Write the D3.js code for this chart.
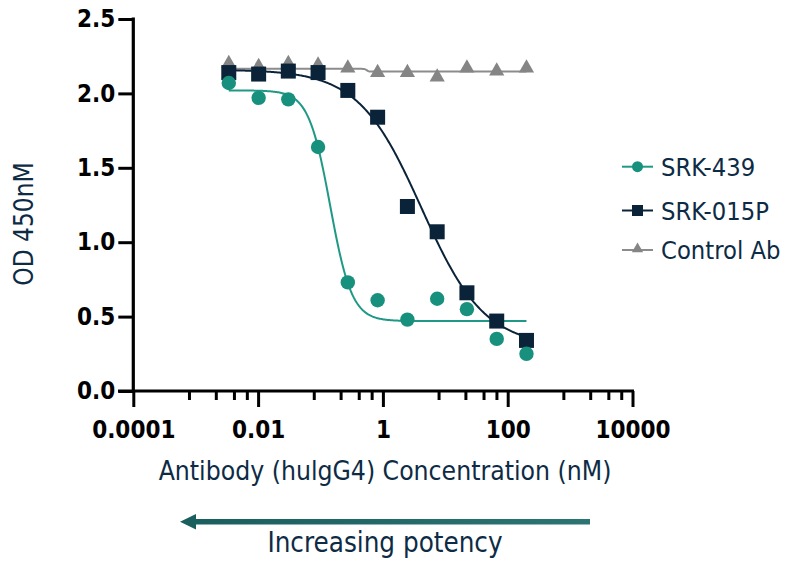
<!DOCTYPE html>
<html>
<head>
<meta charset="utf-8">
<script src="https://cdn.jsdelivr.net/npm/d3@7"></script>
<style>
  body { margin: 0; background: #fff; }
  svg { display: block; }
  text { font-family: "DejaVu Sans Condensed", "DejaVu Sans", sans-serif; font-stretch: condensed; }
</style>
</head>
<body>
<svg id="chart" width="787" height="562"></svg>
<script>

// concentrations (nM), 3-fold dilution
let concentrations = [0.00339, 0.0102, 0.0305, 0.0914, 0.274, 0.823, 2.47, 7.41, 22.2, 66.7, 200];

let srk439 = [2.07, 1.97, 1.96, 1.64, 0.73, 0.61, 0.48, 0.62, 0.55, 0.35, 0.25];
let srk015p = [2.14, 2.13, 2.15, 2.14, 2.02, 1.84, 1.24, 1.07, 0.66, 0.47, 0.34];
let controlAb = [2.20, 2.18, 2.20, 2.19, 2.17, 2.14, 2.14, 2.11, 2.17, 2.15, 2.17];

// 4PL fit params: [top, bottom, ec50, hill]
let fit439 = [2.02, 0.47, 0.143, 2.5];
let fit015p = [2.16, 0.30, 4.15, 0.86];
let fitControl = [2.165, 2.147, 0.55, 30];

let seriesNames = ["SRK-439", "SRK-015P", "Control Ab"];
let seriesColors = ["#17917d", "#0b2339", "#858585"];
let curveColors = ["#1f9985", "#0b2339", "#8c8c8c"];

let yTicks = [0, 0.5, 1.0, 1.5, 2.0, 2.5];
let xMajorTicks = [0.0001, 0.01, 1, 100, 10000];
let xMinorSteps = [7.8, 21, 41, 66];
let xTickLabels = ["0.0001", "0.01", "1", "100", "10000"];

let xTitle = "Antibody (hulgG4) Concentration (nM)";
let yTitle = "OD 450nM";
let arrowLabel = "Increasing potency";


var svg = d3.select("#chart");

var x = d3.scaleLog().domain([0.0001, 10000]).range([133.3, 632.5]);
var y = d3.scaleLinear().domain([0, 2.5]).range([391, 19]);

//minor ticks sit at odd spots between each 2-decade major
let xMinorTicks = [];
xMajorTicks.slice(0, -1).forEach(function(m) {
  xMinorSteps.forEach(function(s) { xMinorTicks.push(m * s); });
});

// minor x ticks
svg.append("g")
    .attr("transform", "translate(0,391)")
    .call(d3.axisBottom(x).tickValues(xMinorTicks).tickSize(9).tickFormat(""))
    .call(function(g) {
      g.select(".domain").remove();
      g.selectAll("line").attr("stroke", "#000").attr("stroke-width", 3);
    });

// major x ticks + labels
svg.append("g")
    .attr("transform", "translate(0,391)")
    .call(d3.axisBottom(x).tickValues(xMajorTicks).tickSize(16).tickPadding(14)
      .tickFormat(function(d, i) { return xTickLabels[i]; }))
    .call(function(g) {
      g.select(".domain").remove();
      g.selectAll("line").attr("stroke", "#000").attr("stroke-width", 3);
      g.selectAll("text").attr("fill", "#000").attr("font-size", 24).attr("font-weight", "bold")
        .style("font-family", '"DejaVu Sans Condensed", "DejaVu Sans", sans-serif');
    });

svg.append("line")
    .attr("x1", 118).attr("x2", 634)
    .attr("y1", 391).attr("y2", 391)
    .attr("stroke", "#000").attr("stroke-width", 3.2);

// y axis
svg.append("g")
    .attr("transform", "translate(133.3,0)")
    .call(d3.axisLeft(y).tickValues(yTicks).tickSize(15).tickPadding(3).tickFormat(d3.format(".1f")))
    .call(function(g) {
      g.select(".domain").attr("stroke", "#000").attr("stroke-width", 3.2).attr("d", "M0,17.5V392.5");
      g.selectAll("line").attr("stroke", "#000").attr("stroke-width", 3);
      g.selectAll("text").attr("fill", "#000").attr("font-size", 24).attr("font-weight", "bold")
        .style("font-family", '"DejaVu Sans Condensed", "DejaVu Sans", sans-serif');
    });

// fit curves
function fourPL(p) {
  return function(c) { return p[1] + (p[0] - p[1]) / (1 + Math.pow(c / p[2], p[3])); };
}

var curveXs = d3.range(0, 301).map(function(i) {
  var lo = Math.log10(concentrations[0]), hi = Math.log10(concentrations[concentrations.length - 1]);
  return Math.pow(10, lo + (hi - lo) * i / 300);
});

var line = d3.line()
    .x(function(d) { return x(d[0]); })
    .y(function(d) { return y(d[1]); });

[fitControl, fit015p, fit439].forEach(function(p, k) {
  var idx = 2 - k;
  var f = fourPL(p);
  svg.append("path")
      .attr("d", line(curveXs.map(function(c) { return [c, f(c)]; })))
      .attr("fill", "none")
      .attr("stroke", curveColors[idx])
      .attr("stroke-width", 2);
});

// markers
var tri = d3.symbol().type(d3.symbolTriangle).size(100);

svg.append("g").selectAll("path")
  .data(controlAb)
  .enter().append("path")
    .attr("d", tri)
    .attr("transform", function(d, i) { return "translate(" + x(concentrations[i]) + "," + y(d) + ")"; })
    .attr("fill", seriesColors[2]);

svg.append("g").selectAll("rect")
  .data(srk015p)
  .enter().append("rect")
    .attr("x", function(d, i) { return x(concentrations[i]) - 7.5; })
    .attr("y", function(d) { return y(d) - 7.5; })
    .attr("width", 15).attr("height", 15)
    .attr("fill", seriesColors[1]);

svg.append("g").selectAll("circle")
  .data(srk439)
  .enter().append("circle")
    .attr("cx", function(d, i) { return x(concentrations[i]); })
    .attr("cy", function(d) { return y(d); })
    .attr("r", 7.2)
    .attr("fill", seriesColors[0]);

// legend
var legend = svg.append("g").attr("transform", "translate(622,0)");
var legendY = [166.7, 210.5, 250];

seriesNames.forEach(function(name, i) {
  var row = legend.append("g").attr("transform", "translate(0," + legendY[i] + ")");
  row.append("line").attr("x1", 0).attr("x2", 31).attr("y1", 0).attr("y2", 0)
      .attr("stroke", curveColors[i]).attr("stroke-width", 2);
  if (i === 0) row.append("circle").attr("cx", 15.5).attr("r", 5.5).attr("fill", seriesColors[0]);
  if (i === 1) row.append("rect").attr("x", 10).attr("y", -5.5).attr("width", 11).attr("height", 11).attr("fill", seriesColors[1]);
  if (i === 2) row.append("path").attr("d", d3.symbol().type(d3.symbolTriangle).size(55)).attr("transform", "translate(15.5,-1)").attr("fill", seriesColors[2]);
  row.append("text").attr("x", 39).attr("y", 9).attr("font-size", 25.3).attr("fill", "#0d2b45").text(name);
});

// axis titles
svg.append("text")
    .attr("x", 385).attr("y", 480)
    .attr("text-anchor", "middle")
    .attr("font-size", 26.3)
    .attr("fill", "#0d2b45")
    .text(xTitle);

svg.append("text")
    .attr("transform", "translate(33,224) rotate(-90)")
    .attr("text-anchor", "middle")
    .attr("font-size", 26)
    .attr("fill", "#0d2b45")
    .text(yTitle);

// potency arrow
var grad = svg.append("defs").append("linearGradient").attr("id", "arrowGrad");
grad.append("stop").attr("offset", "0%").attr("stop-color", "#1b5e5e");
grad.append("stop").attr("offset", "100%").attr("stop-color", "#2c7474");

svg.append("rect")
    .attr("x", 193).attr("y", 519).attr("width", 397).attr("height", 5.5)
    .attr("fill", "url(#arrowGrad)");
svg.append("path")
    .attr("d", "M180,521.7L196,514L196,529.4Z")
    .attr("fill", "#1b5e5e");

svg.append("text")
    .attr("x", 385).attr("y", 552)
    .attr("text-anchor", "middle")
    .attr("font-size", 27.5)
    .attr("fill", "#0d2b45")
    .text(arrowLabel);

</script>
</body>
</html>
